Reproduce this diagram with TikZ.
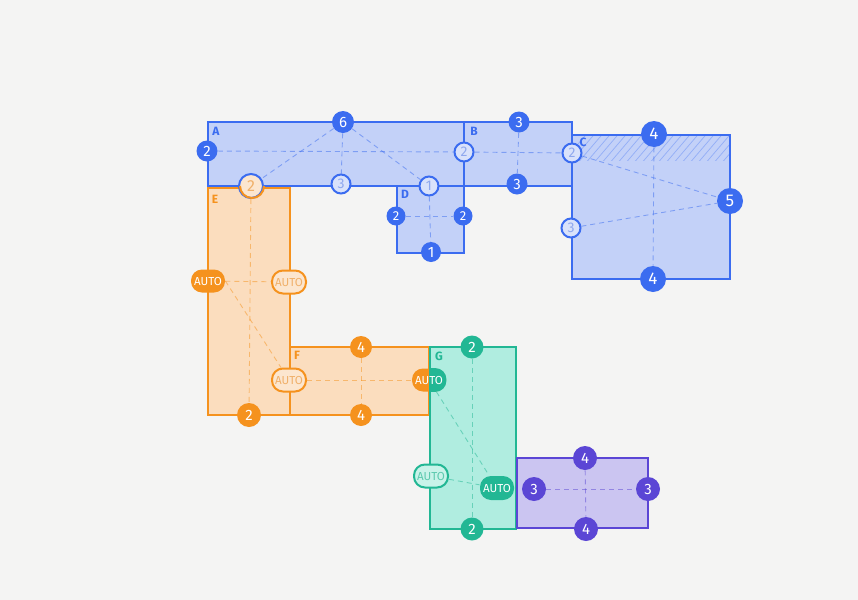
\documentclass[tikz,border=0pt]{standalone}
\usepackage{fontspec}
\setmainfont{Fira Sans}
\definecolor{bS}{HTML}{3B6CF0}
\definecolor{bF}{HTML}{C3D1F8}
\definecolor{bL}{HTML}{D9E2FB}
\definecolor{bT}{HTML}{8FA8EE}
\definecolor{oS}{HTML}{F5921E}
\definecolor{oF}{HTML}{FBDDBE}
\definecolor{oL}{HTML}{FCE6CF}
\definecolor{oT}{HTML}{F0B06A}
\definecolor{tS}{HTML}{22B794}
\definecolor{tF}{HTML}{B0EDE0}
\definecolor{tL}{HTML}{C8F3E9}
\definecolor{tT}{HTML}{5CC9AE}
\definecolor{pS}{HTML}{5B46D5}
\definecolor{pF}{HTML}{CBC5F1}
\definecolor{paper}{HTML}{F4F4F3}
\tikzset{
  area/.style={draw=#1, line width=1.1pt},
  guide/.style={draw=#1, dash pattern=on 2.5pt off 2pt, line width=0.45pt, opacity=0.5},
  fnum/.style={circle, fill=#1, text=white, inner sep=0pt, minimum size=10.5pt,
    font=\fontsize{7.5}{7.5}\selectfont},
  onum/.style={circle, draw=bS, fill=bL, text=bT, line width=1pt, inner sep=0pt,
    minimum size=9.5pt, font=\fontsize{7}{7}\selectfont},
  fpill/.style={rectangle, rounded corners=5.5pt, fill=#1, text=white, inner sep=0pt,
    minimum width=17pt, minimum height=11.5pt, font=\fontsize{5.8}{5.8}\selectfont},
  opill/.style={rectangle, rounded corners=5.5pt, draw=#1, line width=1pt, inner sep=0pt,
    minimum width=17pt, minimum height=11.5pt, font=\fontsize{5.8}{5.8}\selectfont},
  lab/.style={text=#1, font=\bfseries\fontsize{6}{6}\selectfont, inner sep=0pt}
}
\begin{document}
\begin{tikzpicture}[x=0.5pt,y=-0.5pt]
\fill[paper] (0,0) rectangle (858,600);
\useasboundingbox (0,0) rectangle (858,600);
% rectangles
\filldraw[fill=bF, area=bS] (208,122) rectangle (464,186);
\filldraw[fill=bF, area=bS] (464,122) rectangle (572,186);
\filldraw[fill=bF, area=bS] (572,135) rectangle (730,279);
\begin{scope}
\clip (572,135) rectangle (730,160);
\foreach \i in {0,8,...,200} {
  \draw[bS!55, line width=0.35pt] (560+\i,165) -- (590+\i,130);
}
\end{scope}
\draw[area=bS] (572,135) rectangle (730,279);
\filldraw[fill=bF, area=bS] (397,186) rectangle (464,253);
\filldraw[fill=oF, area=oS] (208,188) rectangle (290,415);
\filldraw[fill=oF, area=oS] (290,347) rectangle (429,415);
\filldraw[fill=tF, area=tS] (430,347) rectangle (516,529);
\filldraw[fill=pF, area=pS] (517,458) rectangle (648,528);
% labels
\node[lab=bS] (la) at (216,131) {A};
\node[lab=bS] (lb) at (474,131) {B};
\node[lab=bS] (lc) at (583,142) {C};
\node[lab=bS] (ld) at (405,194) {D};
\node[lab=oS] (le) at (215,199) {E};
\node[lab=oS] (lf) at (297,355) {F};
\node[lab=tS] (lg) at (439,356) {G};
% guides (drawn first, nodes cover their ends)
\coordinate (pa6) at (343,122); \coordinate (pa2l) at (207,151);
\coordinate (pab2) at (464,152); \coordinate (pa3) at (341,184);
\coordinate (pa1) at (429,186); \coordinate (pe2t) at (251,186);
% A
\node[fnum=bS, minimum size=11pt] (a6) at (343,122) {6};
\node[fnum=bS] (a2l) at (207,151) {2};
\node[onum] (ab2) at (464,152) {2};
\node[onum] (a3) at (341,184) {3};
\node[onum] (a1) at (429,186) {1};
\node[circle, draw=bS, fill=oL, text=oT, line width=1pt, inner sep=0pt, minimum size=12pt,
  font=\fontsize{8}{8}\selectfont] (e2t) at (251,186) {2};
% B
\node[fnum=bS] (b3t) at (519,122) {3};
\node[fnum=bS] (b3b) at (517,184) {3};
\node[onum] (bc2) at (572,153) {2};
% C
\node[fnum=bS, minimum size=13pt, font=\fontsize{8.5}{8.5}\selectfont] (c4t) at (654,134) {4};
\node[fnum=bS, minimum size=13pt, font=\fontsize{8.5}{8.5}\selectfont] (c4b) at (653,279) {4};
\node[fnum=bS, minimum size=13pt, font=\fontsize{8.5}{8.5}\selectfont] (c5) at (730,201) {5};
\node[onum] (c3) at (571,228) {3};
% D
\node[fnum=bS, minimum size=9.5pt, font=\fontsize{6.5}{6.5}\selectfont] (d2l) at (396,216) {2};
\node[fnum=bS, minimum size=9.5pt, font=\fontsize{6.5}{6.5}\selectfont] (d2r) at (463,216) {2};
\node[fnum=bS, minimum size=10pt] (d1) at (431,252) {1};
% E
\node[fnum=oS, minimum size=12pt] (e2b) at (249,415) {2};
\node[fpill=oS] (eal) at (208,281) {AUTO};
\node[opill=oS, fill=oL, text=oT] (ear) at (289,282) {AUTO};
\node[opill=oS, fill=oL, text=oT] (fal) at (289,380) {AUTO};
% F
\node[fnum=oS, minimum size=11pt] (f4t) at (361,347) {4};
\node[fnum=oS, minimum size=11pt] (f4b) at (361,415) {4};
\node[fpill=oS] (far) at (429,380) {};
% G
\node[fnum=tS, minimum size=11.5pt] (g2t) at (472,347) {2};
\node[fnum=tS, minimum size=11.5pt] (g2b) at (472,529) {2};
\node[opill=tS, fill=tL, text=tT] (gal) at (431,476) {AUTO};
\node[fpill=tS, minimum height=12pt] (gar) at (497,488) {AUTO};
% H
\node[fnum=pS, minimum size=12pt] (h4t) at (585,458) {4};
\node[fnum=pS, minimum size=12pt] (h4b) at (586,529) {4};
\node[fnum=pS, minimum size=12pt] (h3l) at (534,489) {3};
\node[fnum=pS, minimum size=12pt] (h3r) at (648,489) {3};
% half-teal pill F/G
\begin{scope}
\clip (429,360) rectangle (460,400);
\fill[tS, rounded corners=5.5pt] (far.south west) rectangle (far.north east);
\end{scope}
\node[text=white, font=\fontsize{5.8}{5.8}\selectfont, inner sep=0pt] (fart) at (far.center) {AUTO};
% orange bottom arc of E top circle
\draw[oS, line width=1pt] (e2t.east) arc[start angle=0, end angle=-180, radius=6pt];
% guides
\path[guide=bS] (a2l) -- (ab2);
\path[guide=bS] (a6) -- (a3);
\path[guide=bS] (a6) -- (e2t);
\path[guide=bS] (a6) -- (a1);
\path[guide=bS] (ab2) -- (bc2);
\path[guide=bS] (b3t) -- (b3b);
\path[guide=bS] (c4t) -- (c4b);
\path[guide=bS] (bc2) -- (c5);
\path[guide=bS] (c3) -- (c5);
\path[guide=bS] (d2l) -- (d2r);
\path[guide=bS] (a1) -- (d1);
\path[guide=oS] (e2t) -- (e2b);
\path[guide=oS] (eal) -- (ear);
\path[guide=oS] (eal.east) -- (fal);
\path[guide=oS] (fal) -- (far);
\path[guide=oS] (f4t) -- (f4b);
\path[guide=tS] (g2t) -- (g2b);
\path[guide=tS] (far) -- (gar);
\path[guide=tS] (gal) -- (gar);
\path[guide=pS] (h3l) -- (h3r);
\path[guide=pS] (h4t) -- (h4b);
\end{tikzpicture}
\end{document}
